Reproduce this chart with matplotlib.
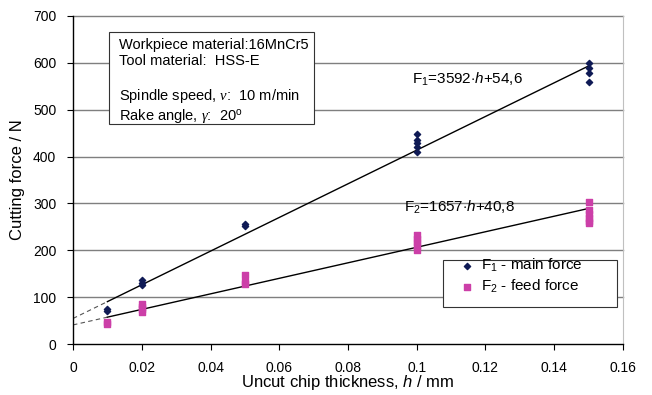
import matplotlib
import numpy as np

matplotlib.use("Agg")
import matplotlib.pyplot as plt  # noqa: E402
from matplotlib.patches import Rectangle  # noqa: E402

plt.rcParams["font.family"] = ["Liberation Sans", "DejaVu Sans"]
plt.rcParams["mathtext.fontset"] = "custom"
plt.rcParams["mathtext.rm"] = "Liberation Sans"
plt.rcParams["mathtext.it"] = "Liberation Serif:italic"
plt.rcParams["mathtext.sf"] = "Liberation Sans:italic"

# measured points (h in mm, force in N)
F1_H = [0.01, 0.01, 0.02, 0.02, 0.02, 0.05, 0.05,
        0.1, 0.1, 0.1, 0.1, 0.1, 0.15, 0.15, 0.15, 0.15]
F1_VAL = [70, 75, 126, 131, 136, 252, 257,
          410, 420, 428, 435, 448, 560, 578, 590, 600]
F2_H = [0.01, 0.01, 0.02, 0.02, 0.02, 0.02, 0.05, 0.05, 0.05,
        0.1, 0.1, 0.1, 0.1, 0.1, 0.15, 0.15, 0.15, 0.15, 0.15, 0.15]
F2_VAL = [42, 47, 68, 75, 80, 86, 128, 133, 147,
          200, 210, 218, 225, 232, 258, 262, 270, 278, 285, 303]

# regression lines F = a*h + b
F1_FIT = (3592, 54.6)
F2_FIT = (1657, 40.8)
FIT_RANGE = (0.01, 0.15)

X_TICKS = [0, 0.02, 0.04, 0.06, 0.08, 0.1, 0.12, 0.14, 0.16]
X_TICK_LABELS = ["0", "0.02", "0.04", "0.06", "0.08", "0.1", "0.12", "0.14", "0.16"]
Y_TICKS = [0, 100, 200, 300, 400, 500, 600, 700]

fig = plt.figure(figsize=(6.52, 3.95), dpi=100)
ax = fig.add_axes([0.112, 0.129, 0.8435, 0.8305])

for y in Y_TICKS[1:]:
    ax.axhline(y, color="#7f7f7f", lw=1.0, zorder=0, clip_on=False)

for (a, b) in (F1_FIT, F2_FIT):
    hs = np.array([0, FIT_RANGE[0]])
    ax.plot(hs, a * hs + b, color="#555555", lw=0.8, ls=(0, (4, 3)), zorder=2)
    hs = np.array(FIT_RANGE)
    ax.plot(hs, a * hs + b, color="black", lw=1.0, zorder=2)

ax.scatter(F1_H, F1_VAL, marker="D", s=10, color="#0f1a55", zorder=3,
           label=r"F$_1$ - main force")
ax.scatter(F2_H, F2_VAL, marker="s", s=14, color="#cc3fa8", zorder=3,
           label=r"F$_2$ - feed force")

ax.text(0.0985, 555, r"F$_1$=3592$\cdot\mathsf{h}$+54,6", fontsize=11)
ax.text(0.0962, 282, r"F$_2$=1657$\cdot\mathsf{h}$+40,8", fontsize=11)

info = ("Workpiece material:16MnCr5\n"
        "Tool material:  HSS-E\n\n"
        "Spindle speed, $v$:  10 m/min\n"
        "Rake angle, $\\gamma$:  20$^{\\mathrm{o}}$")
ax.add_patch(Rectangle((0.0105, 470), 0.0595, 196, transform=ax.transData,
                       fc="white", ec="#333333", lw=0.8, zorder=4))
ax.text(0.0135, 654, info, fontsize=10.5, va="top", linespacing=1.2, zorder=5)

ax.add_patch(Rectangle((0.673, 0.113), 0.3165, 0.143, transform=ax.transAxes,
                       fc="white", ec="#333333", lw=0.8, zorder=4))
leg = ax.legend(loc="lower left", bbox_to_anchor=(0.678, 0.108), fontsize=11,
                frameon=False, handletextpad=0.4, handlelength=1.0,
                borderpad=0.4, labelspacing=0.25)
leg.set_zorder(5)

ax.set_xlim(0, 0.16)
ax.set_ylim(0, 700)
ax.set_xticks(X_TICKS)
ax.set_xticklabels(X_TICK_LABELS)
ax.set_yticks(Y_TICKS)
ax.tick_params(labelsize=10, length=4, width=0.8, direction="out", pad=8)
ax.spines["top"].set_visible(False)
ax.spines["right"].set_color("#c0c0c0")
ax.spines["left"].set_linewidth(1.0)
ax.spines["bottom"].set_linewidth(1.0)
ax.set_xlabel(r"Uncut chip thickness, $\mathsf{h}$ / mm", fontsize=12, labelpad=-1)
ax.set_ylabel("Cutting force / N", fontsize=12, labelpad=6)

fig.savefig("out.png", dpi=100)
